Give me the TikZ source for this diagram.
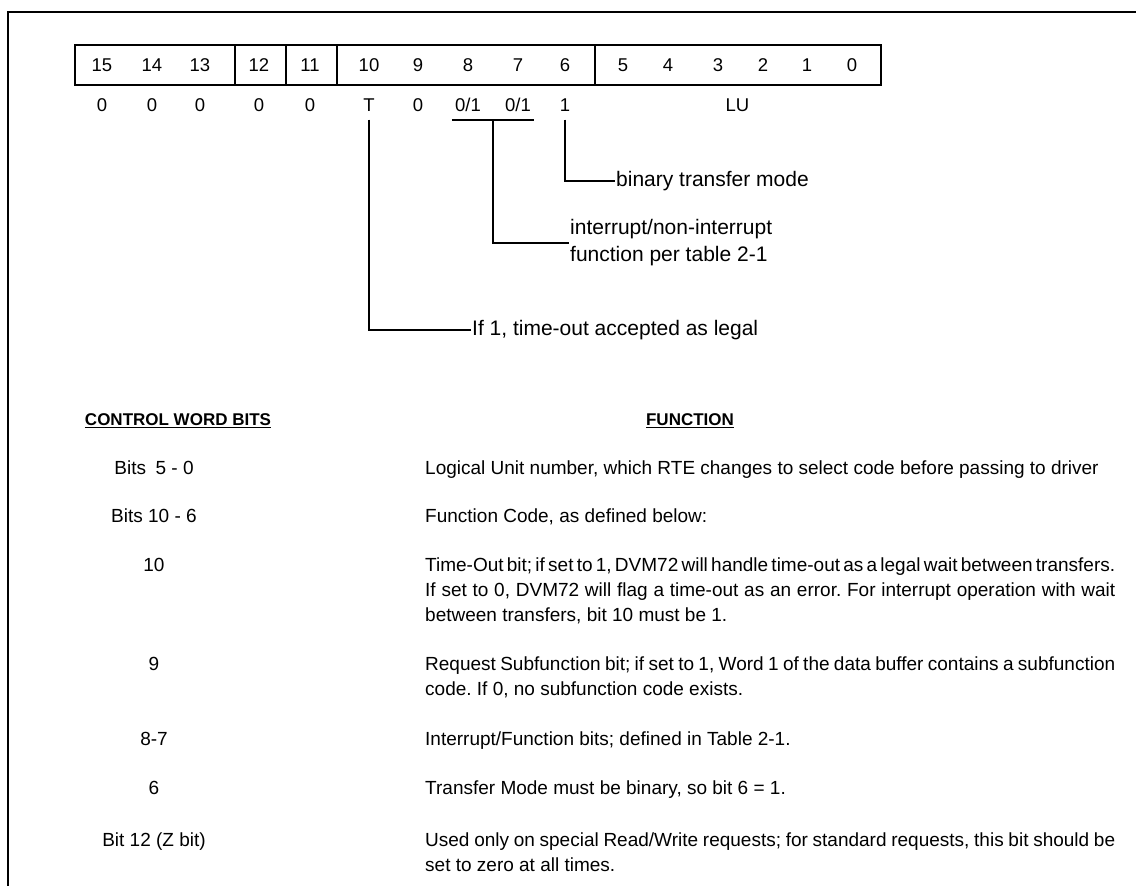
\documentclass[tikz,border=0pt]{standalone}
\usepackage{fontspec}
\setmainfont{Liberation Sans}
\usetikzlibrary{positioning,calc}
\newcommand{\jline}[1]{\makebox[690pt][s]{\frenchspacing\spaceskip=0.278em plus 0.4em minus 0.2em #1}}

\begin{document}
\begin{tikzpicture}[x=1pt,y=-1pt,
  frame/.style={line width=2pt},
  reg/.style={line width=1.7pt},
  lead/.style={line width=2pt},
  bitnum/.style={font=\fontsize{18.5}{20}\selectfont, inner sep=0pt},
  bitval/.style={font=\fontsize{18.5}{20}\selectfont, text height=13pt, text depth=0pt,
                 inner xsep=3pt, inner ysep=8pt, on grid},
  lbl/.style={font=\fontsize{21}{27}\selectfont, inner sep=1pt, align=left, anchor=west},
  hdr/.style={font=\fontsize{17}{20}\selectfont\bfseries, inner sep=0pt},
  bitcol/.style={font=\fontsize{19}{25}\selectfont, anchor=north, inner sep=0pt, align=center},
  desc/.style={font=\fontsize{19}{25}\selectfont\frenchspacing, anchor=north west, inner sep=0pt,
               align=left}
]
\useasboundingbox (0,0) rectangle (1136,886);

% frame (top and left only)
\draw[frame] (1136,12) -- (8,12) -- (8,886);

% control word register
\draw[reg] (75,45) rectangle (881,85);
\foreach \x in {235,286,337,595}
  \draw[reg] (\x,45) -- (\x,85);

\foreach \b/\x in {15/102,14/152,13/200,12/259,11/310,10/369,9/418,8/468,
                   7/518,6/565,5/623,4/668,3/718,2/763,1/807,0/852}
  \node[bitnum] (b\b) at (\x,65) {\b};

\foreach \b/\v in {15/0,14/0,13/0,12/0,11/0,10/T,9/0,6/1}
  \node[bitval, below=40pt of b\b] (v\b) {\v};
\node[bitval, below=40pt of b8] (v8) {0/1};
\node[bitval, below=40pt of b7] (v7) {0/1};
\node[bitval] (vLU) at ($(b5)!.5!(b0)+(0,40)$) {LU};

% leaders
\node[lbl] (lbin) at (615,181) {binary transfer mode};
\node[lbl] (lint) at (569,243) {interrupt/non-interrupt\\function per table 2-1};
\node[lbl] (lto)  at (471,330) {If 1, time-out accepted as legal};

\draw[lead] (v8.south west) -- (v7.south east);
\coordinate (bar) at ($(v8.south west)!.5!(v7.south east)$);
\draw[lead] (v6.south) |- (lbin.west);
\draw[lead] (bar) |- (lint.west);
\draw[lead] (v10.south) |- (lto.west);

% table
\node[hdr] (hbits) at (178,421) {\underline{CONTROL WORD BITS}};
\node[hdr] (hfunc) at (690,421) {\underline{FUNCTION}};

\node[bitcol] (c1) at (154,461) {Bits\enspace 5 - 0};
\node[desc]   (d1) at (425,461) {Logical Unit number, which RTE changes to select code before passing to driver};

\node[bitcol] (c2) at (154,509) {Bits 10 - 6};
\node[desc]   (d2) at (425,509) {Function Code, as defined below:};

\node[bitcol] (c3) at (154,558) {10};
\node[desc]   (d3) at (425,558) {\jline{Time-Out bit; if set to 1, DVM72 will handle time-out as a legal wait between transfers.}\\
  \jline{If set to 0, DVM72 will flag a time-out as an error. For interrupt operation with wait}\\
  between transfers, bit 10 must be 1.};

\node[bitcol] (c4) at (154,657) {9};
\node[desc]   (d4) at (425,657) {\jline{Request Subfunction bit; if set to 1, Word 1 of the data buffer contains a subfunction}\\
  code. If 0, no subfunction code exists.};

\node[bitcol] (c5) at (154,732) {8-7};
\node[desc]   (d5) at (425,732) {Interrupt/Function bits; defined in Table 2-1.};

\node[bitcol] (c6) at (154,781) {6};
\node[desc]   (d6) at (425,781) {Transfer Mode must be binary, so bit 6 = 1.};

\node[bitcol] (c7) at (154,833) {Bit 12 (Z bit)};
\node[desc]   (d7) at (425,833) {\jline{Used only on special Read/Write requests; for standard requests, this bit should be}\\
  set to zero at all times.};

\end{tikzpicture}
\end{document}
